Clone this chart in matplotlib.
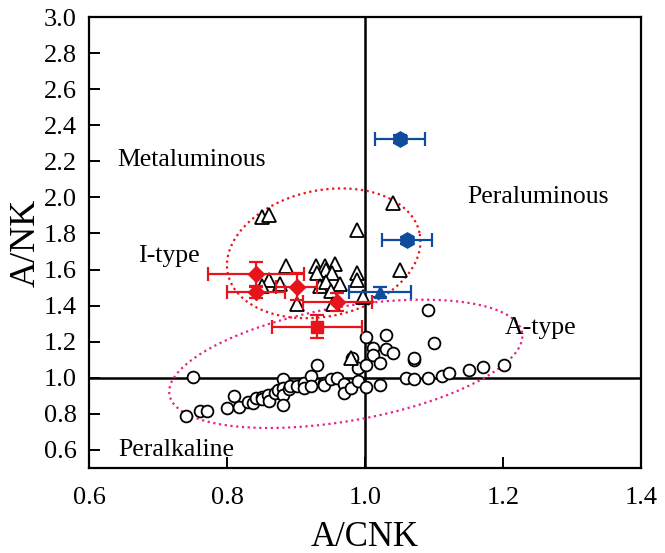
import matplotlib
matplotlib.use('Agg')
import matplotlib.pyplot as plt
import numpy as np

plt.rcParams['font.family'] = ['Liberation Serif', 'DejaVu Serif']

# open triangles (I-type samples)
tri_x = [1.040, 0.850, 0.861, 0.989, 0.885, 0.929, 0.942, 0.956, 0.944, 0.930, 0.952, 0.989, 0.989,
         1.051, 0.861, 0.850, 0.877, 0.935, 0.943, 0.963, 0.950, 0.901, 0.954, 0.997, 0.980]
tri_y = [1.97, 1.89, 1.90, 1.82, 1.62, 1.62, 1.62, 1.63, 1.60, 1.58, 1.58, 1.58, 1.54,
         1.60, 1.54, 1.51, 1.52, 1.51, 1.53, 1.52, 1.48, 1.41, 1.41, 1.45, 1.11]

# open circles (A-type samples)
circ_x = [0.750, 0.740, 0.760, 0.771, 0.800, 0.810, 0.817, 0.830, 0.838, 0.842, 0.850, 0.850, 0.860,
          0.861, 0.870, 0.874, 0.881, 0.881, 0.881, 0.881, 0.889, 0.891, 0.901, 0.911, 0.911, 0.921,
          0.921, 0.931, 0.940, 0.940, 0.950, 0.960, 0.970, 0.970, 0.980, 0.981, 0.990, 0.990, 1.001,
          1.001, 1.001, 1.011, 1.011, 1.021, 1.021, 1.031, 1.031, 1.041, 1.060, 1.071, 1.071, 1.071,
          1.091, 1.091, 1.100, 1.111, 1.121, 1.151, 1.171, 1.201]
circ_y = [1.004, 0.788, 0.816, 0.816, 0.833, 0.899, 0.840, 0.866, 0.862, 0.888, 0.893, 0.884, 0.906,
          0.869, 0.915, 0.930, 0.994, 0.943, 0.906, 0.851, 0.935, 0.954, 0.954, 0.971, 0.943, 1.009,
          0.952, 1.072, 0.971, 0.960, 0.991, 0.998, 0.967, 0.917, 0.943, 1.109, 1.054, 0.980, 1.225,
          1.072, 0.949, 1.164, 1.127, 1.083, 0.961, 1.238, 1.157, 1.138, 0.998, 1.096, 1.110, 0.994,
          0.998, 1.377, 1.193, 1.009, 1.028, 1.044, 1.057, 1.072]

# red diamonds with error bars
rd_x = [0.842, 0.842, 0.901, 0.960]
rd_y = [1.575, 1.473, 1.504, 1.422]
rd_xerr = [0.070, 0.042, 0.030, 0.050]
rd_yerr = [0.065, 0.030, 0.075, 0.050]

# red square
rs_x = [0.930]
rs_y = [1.284]
rs_xerr = [0.065]
rs_yerr = [0.063]

# blue squares
bs_x = [1.051, 1.061]
bs_y = [2.324, 1.762]
bs_xerr = [0.036, 0.036]
bs_yerr = [0.02, 0.02]

# blue triangle
bt_x = [1.021]
bt_y = [1.475]
bt_xerr = [0.045]
bt_yerr = [0.03]

red = '#e8141c'
blue = '#0f4c9e'

fig = plt.figure(figsize=(6.65, 5.53), dpi=100)
ax = fig.add_axes([0.134, 0.154, 0.830, 0.815])
ax.set_xlim(0.6, 1.4)
ax.set_ylim(0.5, 3.0)

ax.axhline(1.0, color='black', lw=1.8, zorder=1)
ax.axvline(1.0, color='black', lw=1.8, zorder=1)


def blob(cx, cy, a, b, ang, **kw):
    # ellipse drawn in pixel space so it is not distorted by the axis scales
    t = np.linspace(0, 2 * np.pi, 400)
    c0 = ax.transData.transform((cx, cy))
    th = np.deg2rad(ang)
    px = c0[0] + a * np.cos(t) * np.cos(th) - b * np.sin(t) * np.sin(th)
    py = c0[1] + a * np.cos(t) * np.sin(th) + b * np.sin(t) * np.cos(th)
    pts = ax.transData.inverted().transform(np.column_stack([px, py]))
    ax.plot(pts[:, 0], pts[:, 1], **kw)


blob(0.940, 1.690, 98, 63, 12, color=red, lw=1.6, ls=(0, (1, 1.6)), zorder=2)
blob(0.972, 1.077, 179, 57, 10, color='#e8238a', lw=1.6, ls=(0, (1, 1.6)), zorder=2)

ax.plot(circ_x, circ_y, 'o', ms=8.5, mfc='white', mec='black', mew=1.3, ls='none', zorder=3)
ax.plot(tri_x, tri_y, '^', ms=10, mfc='white', mec='black', mew=1.3, ls='none', zorder=3)

ax.errorbar(rd_x, rd_y, xerr=rd_xerr, yerr=rd_yerr, fmt='D', ms=8.5, color=red,
            ecolor=red, elinewidth=1.6, capsize=5, capthick=1.6, zorder=4)
ax.errorbar(rs_x, rs_y, xerr=rs_xerr, yerr=rs_yerr, fmt='s', ms=8.5, color=red,
            ecolor=red, elinewidth=1.6, capsize=5, capthick=1.6, zorder=4)
ax.errorbar(bs_x, bs_y, xerr=bs_xerr, yerr=bs_yerr, fmt='h', ms=11, color=blue,
            ecolor=blue, elinewidth=1.6, capsize=5, capthick=1.6, zorder=4)
ax.errorbar(bt_x, bt_y, xerr=bt_xerr, yerr=bt_yerr, fmt='^', ms=9, color=blue,
            ecolor=blue, elinewidth=1.6, capsize=5, capthick=1.6, zorder=4)

lab = dict(fontsize=18.5, ha='center', va='center')
ax.text(0.749, 2.21, 'Metaluminous', **lab)
ax.text(1.251, 2.00, 'Peraluminous', **lab)
ax.text(0.716, 1.674, 'I-type', **lab)
ax.text(1.254, 1.276, 'A-type', **lab)
ax.text(0.726, 0.597, 'Peralkaline', **lab)

ax.set_xticks([0.6, 0.8, 1.0, 1.2, 1.4])
ax.set_xticklabels(['0.6', '0.8', '1.0', '1.2', '1.4'])
ax.set_yticks(np.round(np.arange(0.6, 3.01, 0.2), 1))
ax.set_yticklabels(['%.1f' % v for v in np.arange(0.6, 3.01, 0.2)])
ax.tick_params(direction='in', length=8, width=1.4, labelsize=19)
ax.tick_params(axis='x', pad=14)
ax.tick_params(axis='y', pad=9)
for s in ax.spines.values():
    s.set_linewidth(1.6)

ax.set_xlabel('A/CNK', fontsize=25)
ax.set_ylabel('A/NK', fontsize=26)
ax.xaxis.set_label_coords(0.5, -0.118)
ax.yaxis.set_label_coords(-0.085, 0.5)

fig.savefig('out.png', dpi=100)
